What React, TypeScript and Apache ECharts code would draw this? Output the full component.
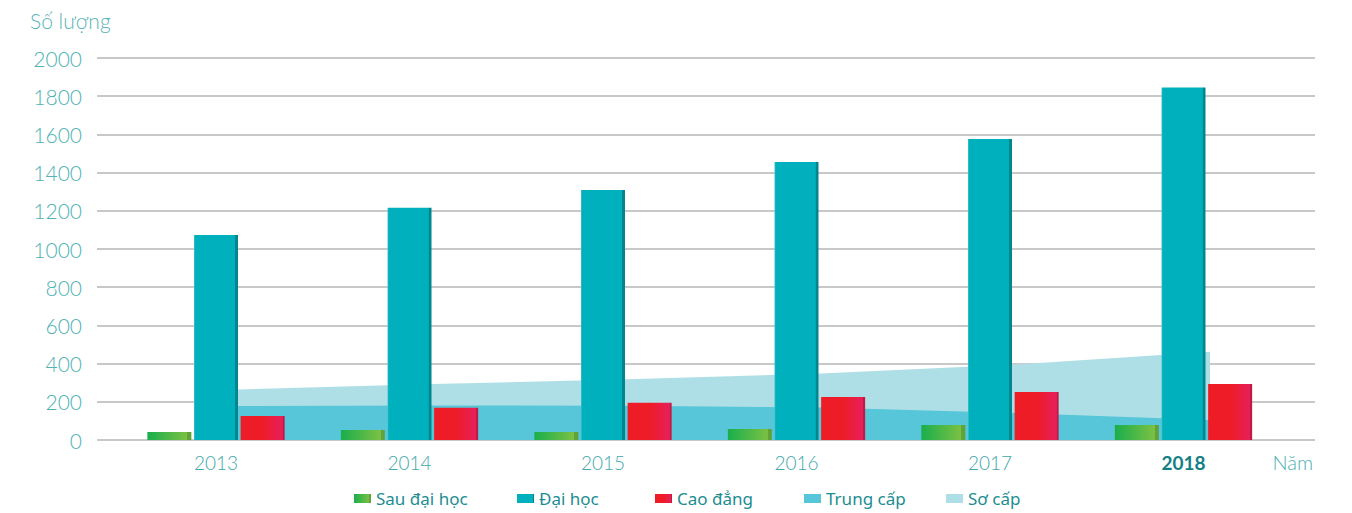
import React, { useEffect, useRef } from "react";
import * as echarts from "echarts";

const years = ["2013", "2014", "2015", "2016", "2017", "2018"];
const sauDaiHoc = [42, 52, 42, 58, 79, 79];
const daiHoc = [1073, 1216, 1309, 1455, 1576, 1845];
const caoDang = [126, 169, 195, 225, 251, 293];
const trungCap = [178, 181, 179, 170, 142, 105];
const soCap = [265, 293, 318, 348, 395, 462];
const seriesNames = ["Sau đại học", "Đại học", "Cao đẳng", "Trung cấp", "Sơ cấp"];
const yMin = 0;
const yMax = 2000;
const yStep = 200;
const yTitle = "Số lượng";
const xTitle = "Năm";
const highlightYear = "2018";

const legendLefts = [354, 517, 655, 804, 946];

const grad = (stops: [number, string][]) => ({
  type: "linear",
  x: 0,
  y: 0,
  x2: 1,
  y2: 0,
  colorStops: stops.map(([offset, color]) => ({ offset, color })),
});

export default function App() {
  const ref = useRef<HTMLDivElement>(null);
  useEffect(() => {
    if (!ref.current) return;
    const chart = echarts.init(ref.current, undefined, { renderer: "svg" });
    const top = 58;
    const bottom = 73;
    const hiddenY = (gridIndex: number) => ({
      type: "value",
      gridIndex,
      min: yMin,
      max: yMax,
      interval: yStep,
      show: false,
      splitLine: { show: false },
    });
    chart.setOption({
      animation: false,
      backgroundColor: "#ffffff",
      grid: [
        { left: 97, right: 37, top, bottom },
        { left: 119.25, right: 71.75, top, bottom },
        { left: 238, right: 142, top, bottom },
      ],
      xAxis: [
        { type: "category", gridIndex: 0, data: years, show: false },
        {
          type: "category",
          gridIndex: 1,
          data: years,
          axisLine: { show: false },
          axisTick: { show: false },
          splitLine: { show: false },
          axisLabel: {
            margin: 13,
            formatter: (v: string) => (v === highlightYear ? `{b|${v}}` : `{n|${v}}`),
            rich: {
              n: { fontFamily: "Lato", fontSize: 19, color: "#3fa8ac", fontWeight: 300 },
              b: { fontFamily: "Lato", fontSize: 19, color: "#137f85", fontWeight: "bold" },
            },
          },
        },
        {
          type: "category",
          gridIndex: 2,
          data: years,
          boundaryGap: false,
          show: false,
        },
      ],
      yAxis: [
        {
          type: "value",
          gridIndex: 0,
          min: yMin,
          max: yMax,
          interval: yStep,
          axisLine: { show: false },
          axisTick: { show: false },
          axisLabel: {
            margin: 15,
            fontFamily: "Lato",
            fontWeight: 300,
            fontSize: 21,
            color: "#4fb2b5",
            formatter: (v: number) => String(v),
          },
          splitLine: { lineStyle: { color: "#c8c8c8", width: 2 } },
        },
        hiddenY(1),
        hiddenY(2),
      ],
      legend: seriesNames.map((name, i) => ({
        data: [name],
        left: legendLefts[i],
        top: 490,
        itemWidth: 17,
        itemHeight: 9,
        icon: "rect",
        padding: 0,
        textStyle: { fontFamily: "Noto Sans", fontSize: 17, color: "#1b8d92" },
      })),
      graphic: [
        {
          type: "text",
          x: 30,
          y: 20,
          style: {
            text: yTitle,
            fontFamily: "Lato",
            fontWeight: 300,
            fontSize: 21,
            fill: "#5ab5b8",
            verticalAlign: "middle",
            align: "left",
          },
        },
        {
          type: "text",
          x: 1313,
          y: 462,
          style: {
            text: xTitle,
            fontFamily: "Lato",
            fontWeight: 300,
            fontSize: 20,
            fill: "#4aaeb2",
            verticalAlign: "middle",
            align: "right",
          },
        },
      ],
      series: [
        {
          name: seriesNames[4],
          type: "line",
          xAxisIndex: 2,
          yAxisIndex: 2,
          data: soCap,
          symbol: "none",
          z: 1,
          lineStyle: { width: 0, color: "#afdfe6" },
          itemStyle: { color: "#afdfe6" },
          areaStyle: { color: "#afdfe6", opacity: 1 },
        },
        {
          name: seriesNames[3],
          type: "line",
          xAxisIndex: 2,
          yAxisIndex: 2,
          data: trungCap,
          symbol: "none",
          z: 2,
          lineStyle: { width: 0, color: "#56c6d8" },
          itemStyle: { color: "#56c6d8" },
          areaStyle: { color: "#56c6d8", opacity: 1 },
        },
        {
          name: seriesNames[0],
          type: "bar",
          xAxisIndex: 1,
          yAxisIndex: 1,
          data: sauDaiHoc,
          barWidth: 44,
          barGap: "6%",
          z: 3,
          itemStyle: {
            color: grad([
              [0, "#1aae4d"],
              [0.9, "#7ac143"],
              [0.91, "#5fa33a"],
              [1, "#5fa33a"],
            ]),
          },
        },
        {
          name: seriesNames[1],
          type: "bar",
          xAxisIndex: 1,
          yAxisIndex: 1,
          data: daiHoc,
          barWidth: 44,
          barGap: "6%",
          z: 3,
          itemStyle: {
            color: grad([
              [0, "#44c2ca"],
              [0.03, "#00b0bc"],
              [0.93, "#00b0bc"],
              [0.94, "#00868e"],
              [1, "#00868e"],
            ]),
          },
        },
        {
          name: seriesNames[2],
          type: "bar",
          xAxisIndex: 1,
          yAxisIndex: 1,
          data: caoDang,
          barWidth: 44,
          barGap: "6%",
          z: 3,
          itemStyle: {
            color: grad([
              [0, "#ee1c25"],
              [0.5, "#ee1c27"],
              [0.95, "#e71f5a"],
              [0.96, "#bf1a45"],
              [1, "#bf1a45"],
            ]),
          },
        },
      ],
    });
    return () => chart.dispose();
  }, []);
  return <div ref={ref} style={{ width: 1352, height: 513, position: "absolute", left: 0, top: 0 }} />;
}
